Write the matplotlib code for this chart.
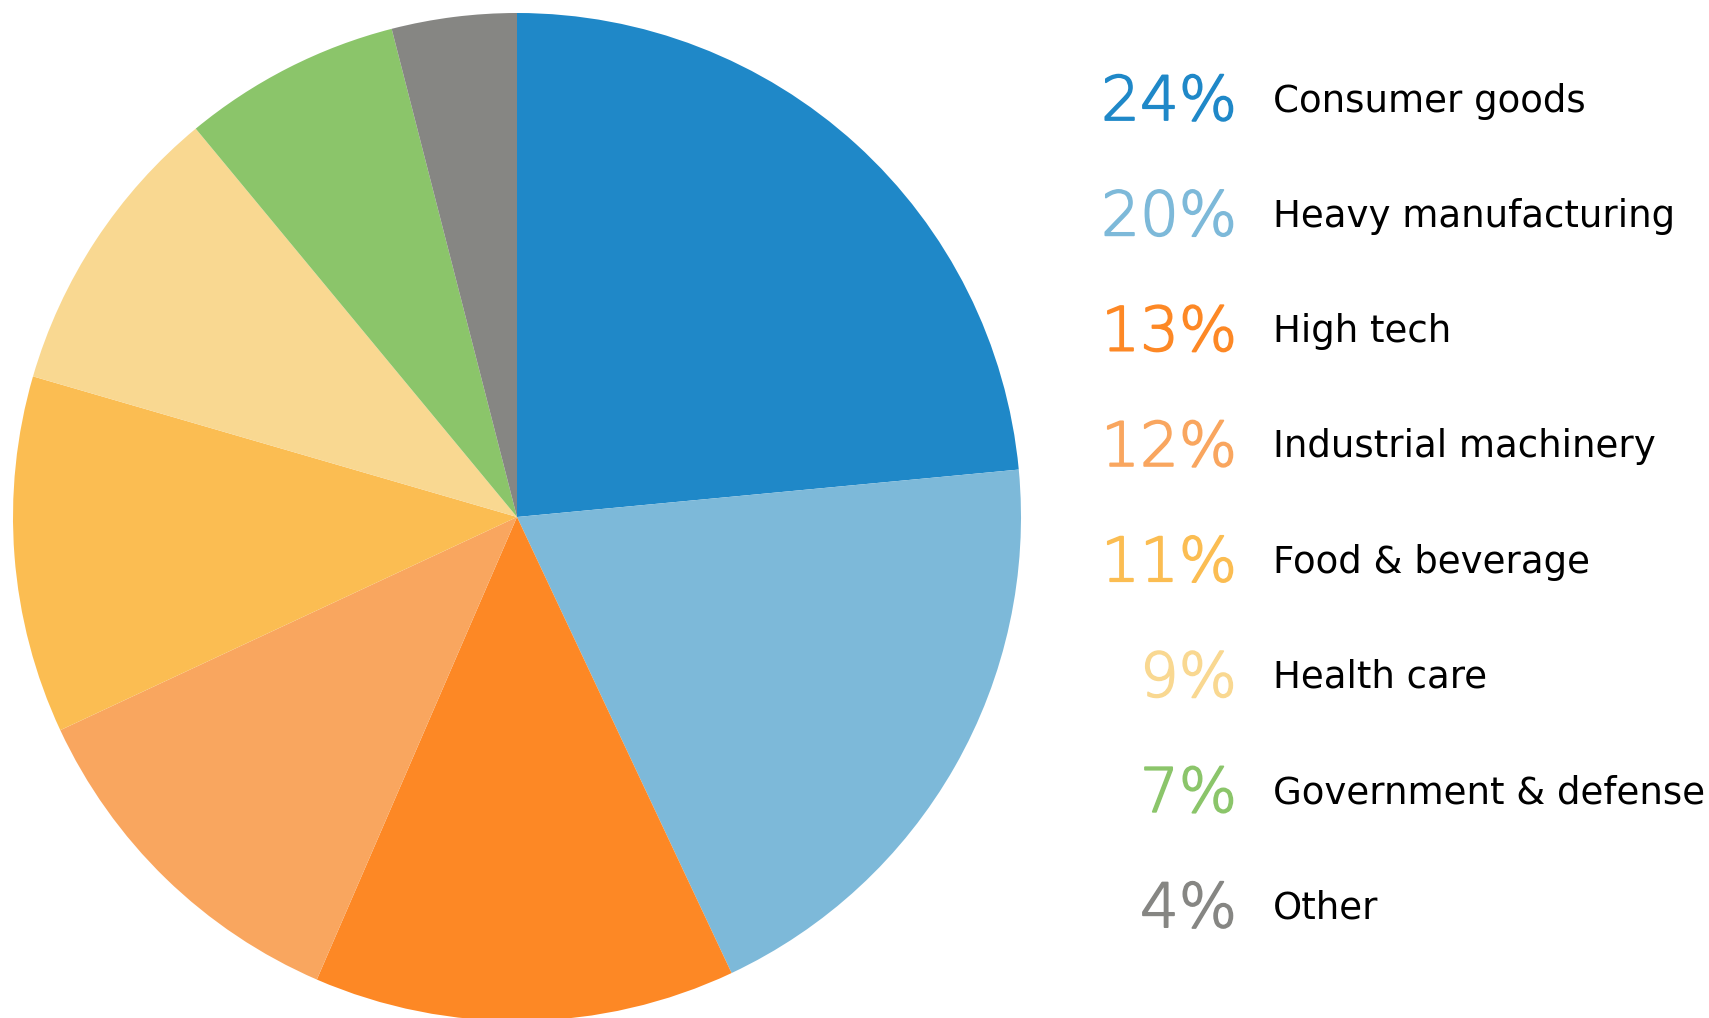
import matplotlib
matplotlib.use("Agg")
import matplotlib.pyplot as plt
import matplotlib.patheffects as pe

# industry shares (%), clockwise from the top
industries = ["Consumer goods", "Heavy manufacturing", "High tech",
              "Industrial machinery", "Food & beverage", "Health care",
              "Government & defense", "Other"]
shares = [23.5, 19.5, 13.5, 11.55, 11.45, 9.5, 7.0, 4.0]
share_labels = ["24%", "20%", "13%", "12%", "11%", "9%", "7%", "4%"]
colors = ["#1f88c8", "#7db9d9", "#fd8825", "#f9a65f",
          "#fbbd52", "#f9d891", "#8bc56a", "#868683"]

W, H = 1709, 1018
fig = plt.figure(figsize=(W / 100, H / 100), dpi=100)

# pie axes, in pixels: centre (517, 517), radius 504
cx, cy, r = 517, 517, 504
ax = fig.add_axes([(cx - r) / W, (H - cy - r) / H, 2 * r / W, 2 * r / H])
ax.pie(shares, colors=colors, startangle=90, counterclock=False,
       wedgeprops=dict(linewidth=0))
ax.set_aspect("equal")
ax.set_xlim(-1, 1)
ax.set_ylim(-1, 1)
ax.axis("off")

# legend as text rows
y0, step = 97, 115.3
for i, (name, lab, c) in enumerate(zip(industries, share_labels, colors)):
    y = 1 - (y0 + i * step) / H
    fig.text(1237 / W, y, lab, color=c, fontsize=44,
             fontweight="light", ha="right", va="center_baseline",
             family="DejaVu Sans",
             path_effects=[pe.withStroke(linewidth=1.3, foreground=c)])
    fig.text(1273 / W, y, name, color="black", fontsize=26.7,
             ha="left", va="center_baseline", family="DejaVu Sans")

fig.savefig("out.png", dpi=100)
